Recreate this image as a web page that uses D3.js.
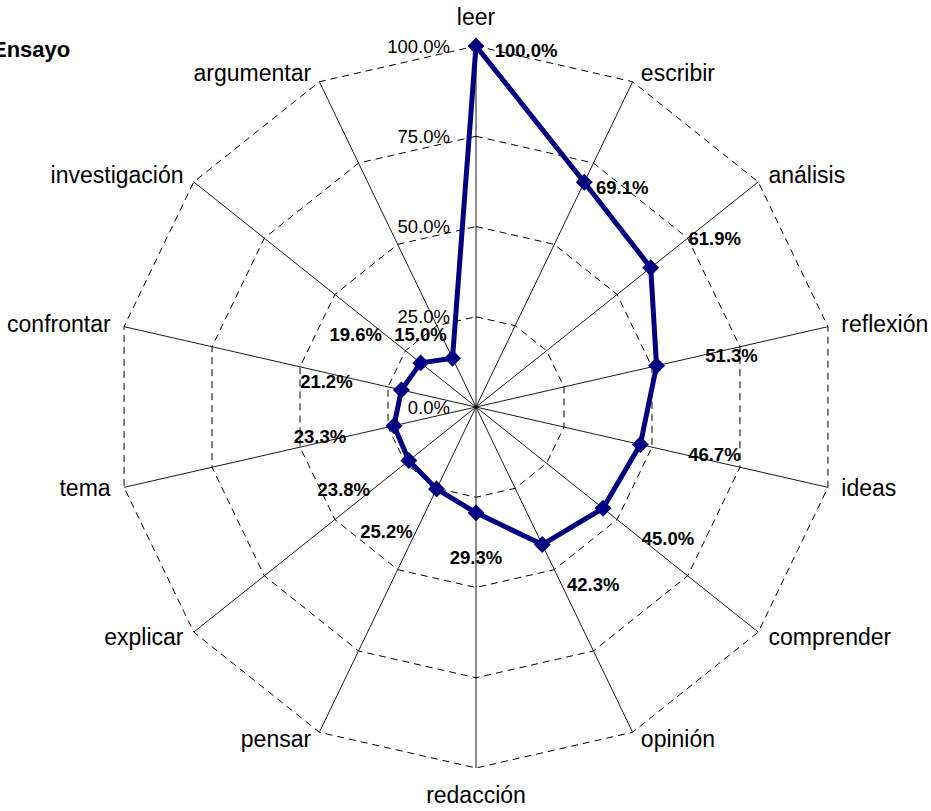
<!DOCTYPE html>
<html>
<head>
<meta charset="utf-8">
<script src="https://cdn.jsdelivr.net/npm/d3@7"></script>
<style>
  html, body { margin: 0; padding: 0; background: #fff; }
  svg { display: block; font-family: Arial, "Liberation Sans", sans-serif; }
</style>
</head>
<body>
<svg id="chart" width="931" height="811"></svg>
<script>
// Categories, clockwise from the top
const categories = ["leer", "escribir", "análisis", "reflexión", "ideas", "comprender", "opinión",
  "redacción", "pensar", "explicar", "tema", "confrontar", "investigación", "argumentar"];
// Share of mentions for each category
const values = [1.000, 0.691, 0.619, 0.513, 0.467, 0.450, 0.423,
  0.293, 0.252, 0.238, 0.233, 0.212, 0.196, 0.150];
// Radial axis ticks
const tickValues = [0, 0.25, 0.5, 0.75, 1];
const title = "Ensayo";

// Layout: nudge of each value label (pixels from its marker to the label centre)
const labelNudge = [[50, 4], [38, 5], [64, -29], [75, -10], [74, 10], [65, 30], [51, 40],
  [0, 45], [-50, 42], [-65, 29], [-74, 11], [-75, -9], [-65, -28], [-32, -24]];

const cx = 476, cy = 407, R = 361;
const navy = "#000080";

const svg = d3.select("#chart");
const r = d3.scaleLinear().domain([0, 1]).range([0, R]);
const angle = d3.scalePoint().domain(categories)
  .range([0, 2 * Math.PI * (categories.length - 1) / categories.length]);
const fmt = d3.format(".1%");

const px = (c, v) => cx + r(v) * Math.sin(angle(c));
const py = (c, v) => cy - r(v) * Math.cos(angle(c));

const g = svg.append("g");
const closed = d3.line().curve(d3.curveLinearClosed);

// Dashed gridline polygons
g.selectAll("path.grid")
  .data(tickValues.filter(t => t > 0))
  .join("path")
  .attr("class", "grid")
  .attr("d", t => closed(categories.map(c => [px(c, t), py(c, t)])))
  .attr("fill", "none")
  .attr("stroke", "#000")
  .attr("stroke-width", 1)
  .attr("stroke-dasharray", "7,5");

// Spokes
g.selectAll("line.spoke")
  .data(categories)
  .join("line")
  .attr("class", "spoke")
  .attr("x1", cx).attr("y1", cy)
  .attr("x2", c => px(c, 1)).attr("y2", c => py(c, 1))
  .attr("stroke", "#000")
  .attr("stroke-width", 0.9);

// Radial tick labels along the first axis
g.selectAll("text.tick")
  .data(tickValues)
  .join("text")
  .attr("class", "tick")
  .attr("x", cx - 26)
  .attr("y", t => cy - r(t) + 6.6)
  .attr("text-anchor", "end")
  .attr("font-size", 18.5)
  .attr("fill", "#000")
  .text(t => fmt(t));

// Data series
const series = categories.map((c, i) => ({ c, v: values[i], i }));
const seriesLine = d3.line()
  .x(d => px(d.c, d.v))
  .y(d => py(d.c, d.v))
  .curve(d3.curveLinearClosed);

g.append("path")
  .datum(series)
  .attr("d", seriesLine)
  .attr("fill", "none")
  .attr("stroke", navy)
  .attr("stroke-width", 5)
  .attr("stroke-linejoin", "round");

// Diamond markers
const sq = d3.symbol().type(d3.symbolSquare).size(100);
g.selectAll("path.marker")
  .data(series)
  .join("path")
  .attr("class", "marker")
  .attr("d", sq)
  .attr("transform", d => `translate(${px(d.c, d.v)},${py(d.c, d.v)}) rotate(45)`)
  .attr("fill", navy)
  .attr("stroke", navy)
  .attr("stroke-width", 2);

// Value labels
g.selectAll("text.value")
  .data(series)
  .join("text")
  .attr("class", "value")
  .attr("x", d => px(d.c, d.v) + labelNudge[d.i][0])
  .attr("y", d => py(d.c, d.v) + labelNudge[d.i][1] + 6.6)
  .attr("text-anchor", "middle")
  .attr("font-size", 18.5)
  .attr("font-weight", "bold")
  .attr("fill", "#000")
  .text(d => fmt(d.v));

// Category labels outside the outer polygon
g.selectAll("text.cat")
  .data(categories)
  .join("text")
  .attr("class", "cat")
  .each(function (c) {
    const a = angle(c), s = Math.sin(a), co = Math.cos(a);
    const vx = px(c, 1), vy = py(c, 1);
    const t = d3.select(this);
    if (Math.abs(s) < 1e-6) {
      t.attr("text-anchor", "middle").attr("x", vx)
        .attr("y", co > 0 ? vy - 21 : vy + 35);
    } else {
      const gap = 8 + 6 * Math.pow(Math.abs(s), 4);
      t.attr("text-anchor", s > 0 ? "start" : "end")
        .attr("x", vx + (s > 0 ? gap : -gap))
        .attr("y", vy + 7 - 9 * co);
    }
  })
  .attr("font-size", 23)
  .attr("fill", "#000")
  .text(c => c);

// Title
svg.append("text")
  .attr("x", -8)
  .attr("y", 57)
  .attr("font-size", 22)
  .attr("font-weight", "bold")
  .attr("fill", "#000")
  .text(title);
</script>
</body>
</html>
